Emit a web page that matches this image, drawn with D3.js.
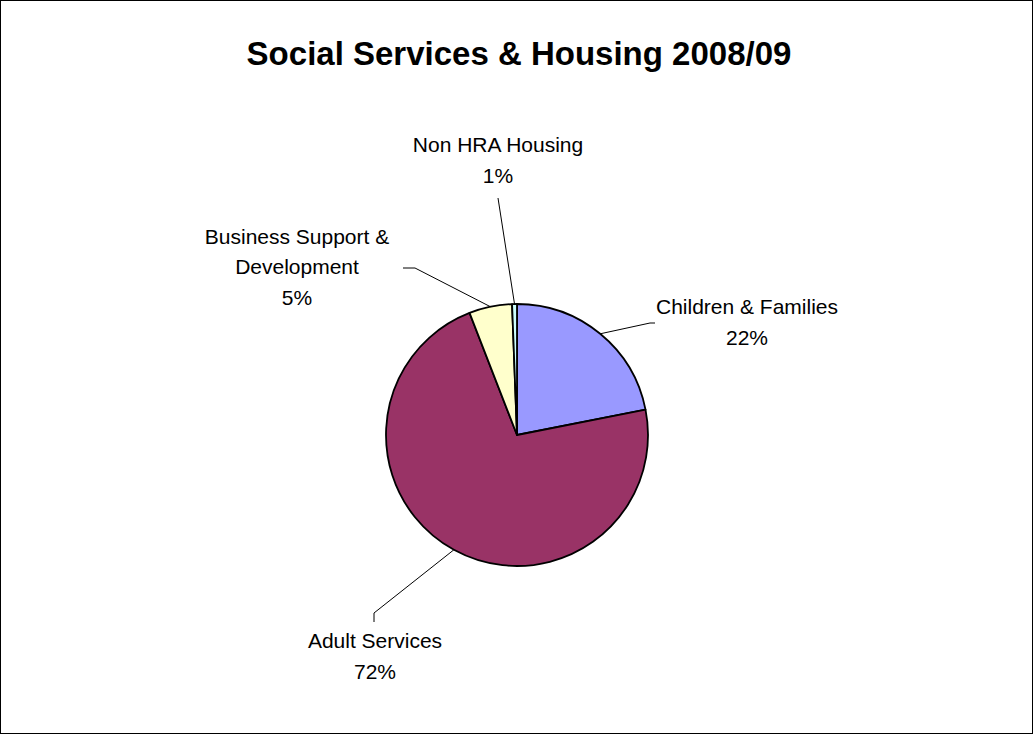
<!DOCTYPE html>
<html><head><meta charset="utf-8">
<script src="https://cdn.jsdelivr.net/npm/d3@7"></script>
<style>body{margin:0;background:#fff}svg{display:block}</style>
</head><body>
<svg id="c" width="1033" height="734"></svg>
<script>
const categories = ["Children & Families", "Adult Services", "Business Support & Development", "Non HRA Housing"];
const values = [21.9, 72.2, 5.3, 0.6];
const pctLabels = ["22%", "72%", "5%", "1%"];
const colors = ["#9999FF", "#993366", "#FFFFCC", "#CCFFFF"];
const labelLines = [["Children & Families", "22%"], ["Adult Services", "72%"], ["Business Support &", "Development", "5%"], ["Non HRA Housing", "1%"]];
const labelPos = [[747, 329.5], [375, 663.5], [297, 274], [498, 167.5]];
const leaderKnee = [[655, 323], [374, 622], [403, 268], [498, 198]];
const leaderElbow = [[650, 323], [374, 613], [415, 268], [498, 198]];

const svg = d3.select("#c");
svg.append("rect").attr("x", 0.5).attr("y", 0.5).attr("width", 1032).attr("height", 733)
  .attr("fill", "#fff").attr("stroke", "#000").attr("stroke-width", 1);

svg.append("text").attr("x", 519).attr("y", 65).attr("text-anchor", "middle")
  .attr("font-family", "Liberation Sans, Arial, sans-serif").attr("font-weight", "bold")
  .attr("font-size", 33).text("Social Services & Housing 2008/09");

const cx = 517, cy = 435, r = 131;
const pie = d3.pie().sort(null).value(d => d)(values);
const arc = d3.arc().innerRadius(0).outerRadius(r);
const g = svg.append("g").attr("transform", `translate(${cx},${cy})`);
g.selectAll("path").data(pie).enter().append("path")
  .attr("d", arc).attr("fill", (d, i) => colors[i])
  .attr("stroke", "#000").attr("stroke-width", 1.8).attr("stroke-linejoin", "round");

// leaders
pie.forEach((d, i) => {
  const a = (d.startAngle + d.endAngle) / 2;
  const px = cx + Math.sin(a) * r, py = cy - Math.cos(a) * r;
  const pts = [leaderKnee[i], leaderElbow[i], [px, py]];
  svg.append("path").attr("d", d3.line()(pts)).attr("fill", "none")
    .attr("stroke", "#000").attr("stroke-width", 1);
});

// labels
labelLines.forEach((lines, i) => {
  const t = svg.append("text").attr("text-anchor", "middle")
    .attr("font-family", "Liberation Sans, Arial, sans-serif").attr("font-size", 21);
  const n = lines.length;
  const lh = 30.5;
  const y0 = labelPos[i][1] - (n - 1) * lh / 2;
  lines.forEach((l, j) => {
    t.append("tspan").attr("x", labelPos[i][0]).attr("y", y0 + j * lh).text(l);
  });
});
</script>
</body></html>
